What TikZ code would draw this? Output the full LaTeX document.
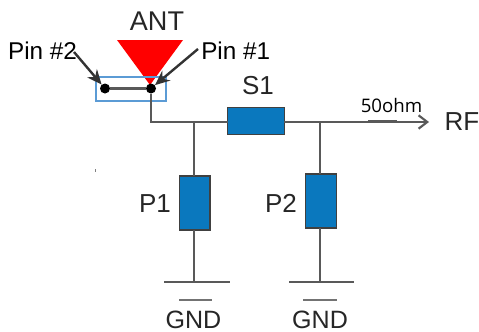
\documentclass[tikz,border=0pt]{standalone}
\usepackage{fontspec}
\setmainfont{Liberation Sans}
\newfontfamily\ohmfont{Open Sans}
\usetikzlibrary{arrows.meta,calc}
\definecolor{wire}{HTML}{595959}
\definecolor{partblue}{HTML}{0A78BE}
\definecolor{selblue}{HTML}{5B9BD5}
\tikzset{
  wirel/.style={draw=wire,line width=1.6pt},
  part/.style={draw=black!75,line width=1pt,fill=partblue,minimum width=0,inner sep=0pt,outer sep=0pt},
  lab/.style={inner sep=0pt,text=black!85,font=\fontsize{19.5pt}{19.5pt}\selectfont},
  pinlab/.style={inner sep=0pt,text=black,font=\fontsize{18.2pt}{18.2pt}\selectfont},
  pindot/.style={circle,fill=black,inner sep=0pt,minimum size=7.5pt},
  pinarrow/.style={draw=black!80,line width=1.8pt,-{Stealth[length=11pt,width=9.5pt]}},
}
\begin{document}
\begin{tikzpicture}[x=0.75pt,y=-0.75pt]
\useasboundingbox (0,0) rectangle (479,332);
% antenna
\fill[red,draw=none] (117,40) -- (183,40) -- (150,85) -- cycle;
\node[lab,font=\fontsize{20.3pt}{20.3pt}\selectfont] (ant) at (157,21) {ANT};
% pins
\node[pindot] (pa) at (151,88.5) {};
\node[pindot] (pb) at (105,88.5) {};
\draw[wirel] (pb) -- (pa);
\node[draw=selblue,line width=1.6pt,minimum width=52pt,minimum height=17.5pt,inner sep=0pt] (sel) at (131,89) {};
% parts
\node[part,minimum width=42.5pt,minimum height=20pt] (s1) at (256,121) {};
\node[part,minimum width=23pt,minimum height=40.5pt] (p1) at (194.5,203) {};
\node[part,minimum width=23pt,minimum height=40.5pt] (p2) at (321,201) {};
% junctions and free ends
\coordinate (corner) at (151,122);
\coordinate (j1) at (194,122);
\coordinate (j2) at (320,122);
\coordinate (rfend) at (429,122);
\coordinate (g1) at (194,282);
\coordinate (g2) at (320,282);
\coordinate (p2s) at (74,52);
\coordinate (p1s) at (198,49);
% wires
\draw[wirel] (pa) -- (corner) -- (s1.west |- corner);
\draw[wirel] (j1) -- (j1 |- p1.north);
\draw[wirel] (p1.south -| j1) -- (g1);
\draw[wirel] (j2) -- (j2 |- p2.north);
\draw[wirel] (p2.south -| j2) -- (g2);
\draw[wirel,-{Straight Barb[length=6.5pt,width=10pt,line width=1.6pt]}] (s1.east |- j2) -- (rfend);
\draw[draw=wire,line width=2.8pt] (368,121.5) -- (397,121.5);
% grounds
\draw[wirel] (164,282) -- (230,282);
\draw[wirel] (289,282) -- (354,282);
\draw[draw=black!55,line width=1.5pt] (179,300) -- (212,300);
\draw[draw=black!55,line width=1.5pt] (303,300) -- (337,300);
\draw[draw=black!50,line width=0.5pt] (95,169) -- (95,172);
% labels
\node[lab] (s1l) at (258,86) {S1};
\node[lab] (p1l) at (155,204) {P1};
\node[lab] (p2l) at (281,203) {P2};
\node[lab] (rf) at (462,122) {RF};
\node[lab,font=\fontsize{18.8pt}{18.8pt}\selectfont] (gnd1) at (193.5,320) {GND};
\node[lab,font=\fontsize{18.8pt}{18.8pt}\selectfont] (gnd2) at (320,320) {GND};
\node[inner sep=0pt,text=black,font=\ohmfont\fontsize{14pt}{14pt}\selectfont] (ohm) at (391.5,105) {50ohm};
\node[pinlab] (pin2) at (42.5,51) {Pin \#2};
\node[pinlab,anchor=west] (pin1) at (201,51) {Pin \#1};
% pin arrows
\draw[pinarrow] (p2s) -- (pb);
\draw[pinarrow] (p1s) -- (pa);
\end{tikzpicture}
\end{document}
